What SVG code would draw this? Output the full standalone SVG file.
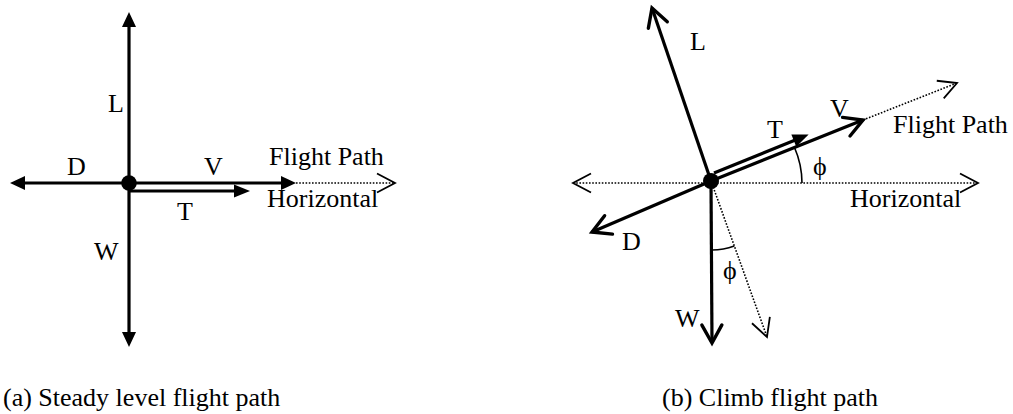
<svg xmlns="http://www.w3.org/2000/svg" width="1013" height="414" viewBox="0 0 1013 414">
<style>
text{font-family:"Liberation Serif","Times New Roman",serif;font-size:26px;fill:#000}
.vec{stroke:#000;stroke-width:3.2;fill:none}
.dot{stroke:#000;stroke-width:1.6;stroke-dasharray:1.6 1.6;fill:none}
.arc{stroke:#000;stroke-width:1.6;fill:none}
</style>
<defs>
<marker id="tri" markerUnits="userSpaceOnUse" markerWidth="20" markerHeight="20" refX="11" refY="7" orient="auto" overflow="visible">
<path d="M0,0 L15,7 L0,14 Z" fill="#000"/>
</marker>
<marker id="tri2" markerUnits="userSpaceOnUse" markerWidth="20" markerHeight="20" refX="11" refY="6.5" orient="auto" overflow="visible">
<path d="M0,0 L16,6.5 L0,13 Z" fill="#000"/>
</marker>
<marker id="chev" markerUnits="userSpaceOnUse" markerWidth="24" markerHeight="24" refX="18" refY="10" orient="auto" overflow="visible">
<path d="M0,0 L18,10 L0,20" fill="none" stroke="#000" stroke-width="3.4" stroke-linecap="round"/>
</marker>
<marker id="chevd" markerUnits="userSpaceOnUse" markerWidth="24" markerHeight="24" refX="18" refY="9.5" orient="auto-start-reverse" overflow="visible">
<path d="M0,0 L18,9.5 L0,19" fill="none" stroke="#000" stroke-width="1.8"/>
</marker>
</defs>

<g id="connectors">
<!-- (a) steady level -->
<line class="vec" x1="129" y1="183" x2="129" y2="16" marker-end="url(#tri)"/>
<line class="vec" x1="129" y1="183" x2="129" y2="343" marker-end="url(#tri)"/>
<line class="vec" x1="129" y1="183" x2="14" y2="183" marker-end="url(#tri)"/>
<line class="vec" x1="129" y1="183" x2="292" y2="183" marker-end="url(#tri)"/>
<line class="vec" x1="129" y1="191" x2="245" y2="191" marker-end="url(#tri2)"/>
<line class="dot" x1="296" y1="183" x2="395" y2="183" marker-end="url(#chevd)"/>

<!-- (b) climb -->
<line class="dot" x1="573" y1="183" x2="978" y2="183" marker-start="url(#chevd)" marker-end="url(#chevd)"/>
<line class="vec" x1="711" y1="181" x2="652" y2="8" marker-end="url(#chev)"/>
<line class="vec" x1="711" y1="181" x2="863" y2="120" marker-end="url(#chev)"/>
<line class="dot" x1="863" y1="120" x2="957" y2="83" marker-end="url(#chevd)"/>
<line class="vec" x1="714" y1="173" x2="804" y2="136.5" marker-end="url(#tri2)"/>
<line class="vec" x1="711" y1="181" x2="592" y2="232" marker-end="url(#chev)"/>
<line class="vec" x1="711" y1="181" x2="712" y2="343" marker-end="url(#chev)"/>
<line class="dot" x1="711" y1="181" x2="767" y2="337" marker-end="url(#chevd)"/>
<path class="arc" d="M802,183 A90,90 0 0 0 794.5,147.5"/>
<path class="arc" d="M712,250 A69,69 0 0 0 734.3,245.9"/>
</g>

<g id="node-a-center"><circle cx="129" cy="183" r="7.8" fill="#000"/></g>
<g id="node-b-center"><circle cx="711" cy="181" r="8" fill="#000"/></g>

<g id="labels-a">
<text x="108" y="112">L</text>
<text x="67" y="175">D</text>
<text x="204" y="175">V</text>
<text x="177" y="220">T</text>
<text x="94" y="260">W</text>
<text x="269" y="165">Flight Path</text>
<text x="267" y="207">Horizontal</text>
</g>

<g id="labels-b">
<text x="690" y="50">L</text>
<text x="830" y="117">V</text>
<text x="767" y="138">T</text>
<text x="893" y="133">Flight Path</text>
<text x="850" y="207">Horizontal</text>
<text x="622" y="250">D</text>
<text x="675" y="327">W</text>
<text x="813" y="175">ϕ</text>
<text x="723" y="279">ϕ</text>
</g>

<g id="captions">
<text x="3" y="406">(a) Steady level flight path</text>
<text x="662" y="406">(b) Climb flight path</text>
</g>
</svg>
